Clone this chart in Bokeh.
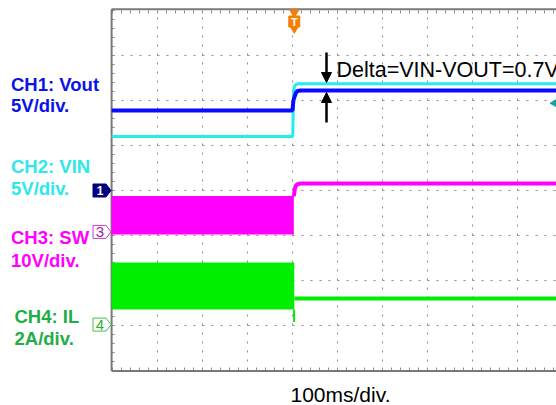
import numpy as np
from bokeh.plotting import figure
from bokeh.models import Range1d, Arrow, NormalHead
from bokeh.embed import file_html
from bokeh.resources import INLINE
from bokeh.core.properties import value

# ---------------- data (time in ms, values in channel units) ----------------
x_grid_ticks = [100, 200, 300, 400, 500, 600, 700, 800, 900]   # 100 ms/div
y_grid_ticks = [1, 2, 3, 4, 5, 6, 7]                           # divisions
n_xdiv, n_ydiv = 10, 8

ch_titles = ["CH1: Vout", "CH2: VIN", "CH3: SW", "CH4: IL"]
ch_scale_text = ["5V/div.", "5V/div.", "10V/div.", "2A/div."]
time_text = "100ms/div."
delta_text = "Delta=VIN-VOUT=0.7V"

ch1_scale, ch1_pos = 5.0, 4.0     # V/div, ground position (div)
ch2_scale, ch2_pos = 5.0, 4.0
ch3_scale, ch3_pos = 10.0, 3.08
ch4_scale, ch4_pos = 2.0, 1.02

# CH1 Vout
vout_t = [-2, 400, 402, 407, 411, 418, 995]
vout_v = [8.9, 8.9, 10.0, 10.8, 11.05, 11.12, 11.12]
# CH2 VIN
vin_t = [-2, 400.5, 401.5, 402.5, 404, 407, 412, 995]
vin_v = [6.0, 6.0, 8.5, 10.8, 11.5, 11.75, 11.85, 11.85]
# CH3 SW (switching band before, DC after)
sw_band_t = [-2, 403]
sw_band_low = [-0.58, -0.58]
sw_band_high = [7.98, 7.98]
sw_after_t = [403, 405, 407, 411, 418, 995]
sw_after_v = [7.9, 9.4, 10.2, 10.6, 10.76, 10.76]
# CH4 IL (ripple band before, DC after)
il_band_t = [-2, 404]
il_band_low = [0.67, 0.67]
il_band_high = [2.76, 2.76]
il_spike_t = [403.5, 403.5]
il_spike_v = [0.67, 0.12]
il_after_t = [404, 995]
il_after_v = [1.16, 1.16]

trig_t = 404          # trigger time (ms)
trig_level = 9.7      # CH2 trigger level (V)

# ---------------- geometry helpers (picture pixels -> data) ----------------
X0 = -2.2
PXD = 0.45            # px per ms
Y_TOP = 8 + 1 / 45


def tx(px):
    return X0 + (px - 111) / PXD


def dy(py):
    return Y_TOP - (py - 9) / 45.0


def div(vals, pos, scale):
    return [pos + v / scale for v in vals]


FONT = "Liberation Sans"

p = figure(width=556, height=405,
           x_range=Range1d(tx(0), tx(556)), y_range=Range1d(dy(405), dy(0)),
           output_backend="svg", toolbar_location=None,
           x_axis_location=None, y_axis_location=None)
p.min_border = 0
p.outline_line_color = None
p.grid.visible = False
p.background_fill_color = "white"
p.border_fill_color = "white"

# ---------------- graticule ----------------
grid_col = "#8c8c8c"
x_left, x_right = -2, n_xdiv * 100
p.segment(x0=x_grid_ticks, y0=[0] * len(x_grid_ticks), x1=x_grid_ticks,
          y1=[n_ydiv] * len(x_grid_ticks), line_color=grid_col, line_dash="2 7", line_width=1)
p.segment(x0=[0] * len(y_grid_ticks), y0=y_grid_ticks, x1=[x_right] * len(y_grid_ticks),
          y1=y_grid_ticks, line_color=grid_col, line_dash="2 7", line_width=1)

# minor edge ticks every 1/5 division
tick_col = "#8a8a8a"
yt = np.arange(0, n_ydiv + 0.01, 0.2)
p.segment(x0=[x_left] * len(yt), y0=yt, x1=[x_left + 3 / PXD] * len(yt), y1=yt,
          line_color=tick_col, line_width=1)
xt = np.arange(0, x_right + 1, 20)
p.segment(x0=xt, y0=[0] * len(xt), x1=xt, y1=[3 / 45] * len(xt), line_color=tick_col, line_width=1)
p.segment(x0=xt, y0=[n_ydiv] * len(xt), x1=xt, y1=[n_ydiv - 3 / 45] * len(xt),
          line_color=tick_col, line_width=1)

# borders (left, top, bottom)
bcol = "#7a7a7a"
p.segment(x0=[x_left], y0=[-0.01], x1=[x_left], y1=[n_ydiv + 0.03], line_color=bcol, line_width=2)
p.segment(x0=[x_left], y0=[n_ydiv + 0.03], x1=[x_right], y1=[n_ydiv + 0.03], line_color=bcol, line_width=2)
p.segment(x0=[x_left], y0=[-0.01], x1=[x_right], y1=[-0.01], line_color=bcol, line_width=2)

# ---------------- traces ----------------
green = "#00ee00"
magenta = "#ff00ff"
cyan = "#22eef0"
blue = "#0a0aff"

p.varea(x=il_band_t, y1=div(il_band_low, ch4_pos, ch4_scale),
        y2=div(il_band_high, ch4_pos, ch4_scale), fill_color=green)
p.line(il_spike_t, div(il_spike_v, ch4_pos, ch4_scale), line_color=green, line_width=2)
p.line(il_after_t, div(il_after_v, ch4_pos, ch4_scale), line_color=green, line_width=4)

p.varea(x=sw_band_t, y1=div(sw_band_low, ch3_pos, ch3_scale),
        y2=div(sw_band_high, ch3_pos, ch3_scale), fill_color=magenta)
p.line(sw_after_t, div(sw_after_v, ch3_pos, ch3_scale), line_color=magenta, line_width=4)

p.line(vin_t, div(vin_v, ch2_pos, ch2_scale), line_color=cyan, line_width=3)
p.line(vout_t, div(vout_v, ch1_pos, ch1_scale), line_color=blue, line_width=4)

# trigger level marker (right edge, teal)
p.scatter([tx(557)], [ch2_pos + trig_level / ch2_scale], marker="triangle", size=13,
          angle=np.pi / 2, fill_color="#17a3a3", line_color="#17a3a3")

# trigger position marker "T"
orange = "#f57f00"
p.scatter([trig_t], [dy(12)], marker="inverted_triangle", size=9, fill_color=orange, line_color=orange)
p.scatter([trig_t], [dy(21)], marker="square", size=11, fill_color=orange, line_color=orange)
p.scatter([trig_t], [dy(26.5)], marker="inverted_triangle", size=11, fill_color=orange, line_color=orange)
p.text([trig_t], [dy(21.5)], text=["T"], text_font=value(FONT), text_font_style="bold",
       text_font_size="11px", text_color="white", text_align="center", text_baseline="middle")

# Delta annotation arrows and text
arrow_x = tx(326)
p.add_layout(Arrow(end=NormalHead(size=10, fill_color="black", line_color="black"),
                   x_start=arrow_x, y_start=dy(52), x_end=arrow_x, y_end=dy(82),
                   line_width=2.5, line_color="black"))
p.add_layout(Arrow(end=NormalHead(size=10, fill_color="black", line_color="black"),
                   x_start=arrow_x, y_start=dy(122), x_end=arrow_x, y_end=dy(92),
                   line_width=2.5, line_color="black"))
p.text([tx(336)], [dy(69.5)], text=[delta_text], text_font=value(FONT),
       text_font_size="21.5px", text_color="black", text_align="left", text_baseline="middle")

# ---------------- channel labels on the left ----------------
label_colors = ["#0a14e6", "#2ee8ea", "#ff00ff", "#1fae46"]
label_x = [10.5, 10.5, 10.5, 14]
title_mid = [83.7, 166, 237, 316]
scale_mid = [105.3, 188, 260, 338]
p.text([tx(v) for v in label_x], [dy(v) for v in title_mid], text=ch_titles,
       text_font=value(FONT), text_font_style="bold", text_font_size="18.5px",
       text_color=label_colors, text_baseline="middle")
p.text([tx(v) for v in label_x], [dy(v) for v in scale_mid], text=ch_scale_text,
       text_font=value(FONT), text_font_style="bold", text_font_size="18.5px",
       text_color=label_colors, text_baseline="middle")

# channel ground markers
mk_text = ["1", "3", "4"]
mk_pos = [ch1_pos, ch3_pos, ch4_pos]
mk_fill = ["#000080", "white", "white"]
mk_line = ["#000080", "#c040c0", "#40c040"]
mk_tcol = ["white", "#a020a0", "#30b030"]
mk_style = ["bold", "normal", "normal"]
mk_size = ["12px", "15px", "15px"]
half = 6.5 / 45
mk_xs = [[tx(92.5), tx(105.5), tx(110.5), tx(105.5), tx(92.5)] for _ in mk_pos]
mk_ys = [[pos + half, pos + half, pos, pos - half, pos - half] for pos in mk_pos]
p.patches(mk_xs, mk_ys, fill_color=mk_fill, line_color=mk_line, line_width=1)
for i in range(3):
    p.text([tx(99.5)], [mk_pos[i]], text=[mk_text[i]], text_font=value(FONT),
           text_font_style=mk_style[i], text_font_size=mk_size[i], text_color=mk_tcol[i],
           text_align="center", text_baseline="middle")

# time base label
p.text([tx(340)], [dy(394.2)], text=[time_text], text_font=value(FONT),
       text_font_size="21px", text_color="black", text_align="center",
       text_baseline="middle")

open("out.html", "w").write(file_html(p, INLINE))
